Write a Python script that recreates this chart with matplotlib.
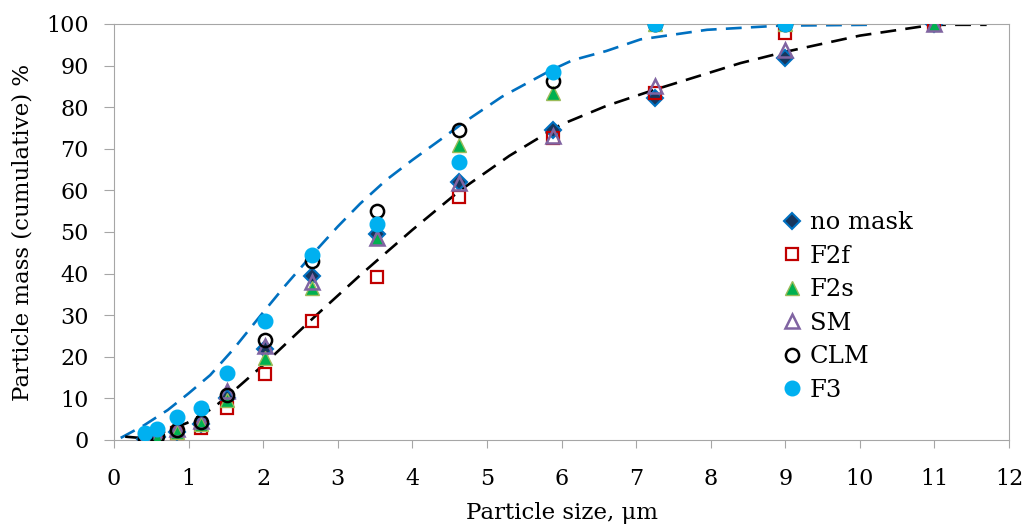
import numpy as np
import matplotlib
matplotlib.use('Agg')
import matplotlib.pyplot as plt

plt.rcParams['font.family'] = ['DejaVu Serif']

# particle size classes (um)
size = [0.41, 0.57, 0.84, 1.16, 1.52, 2.02, 2.66, 3.52, 4.63, 5.88, 7.26, 9.0, 11.0]

no_mask = [0.2, 0.8, 2.0, 3.8, 10.0, 21.8, 39.3, 49.5, 62.0, 74.5, 82.3, 91.8, 100]
f2f     = [0.0, 0.5, 1.6, 2.8, 7.6, 15.9, 28.6, 39.1, 58.5, 72.5, 83.4, 97.9, 100]
f2s     = [0.1, 0.7, 2.0, 3.8, 9.5, 19.8, 36.5, 48.5, 71.0, 83.3, 100, 100, 100]
sm      = [0.4, 1.0, 2.6, 4.6, 11.8, 22.5, 38.0, 48.6, 61.7, 73.0, 85.2, 93.8, 100]
clm     = [0.4, 0.9, 2.4, 4.4, 10.8, 24.0, 43.0, 55.0, 74.5, 86.3, 100, 100]
f3      = [1.6, 2.7, 5.6, 7.6, 16.2, 28.7, 44.5, 52.0, 66.9, 88.5, 100, 100]

# fitted curves
fit_blue_x = [0.09, 0.4, 0.72, 1.0, 1.29, 1.6, 1.96, 2.3, 2.63, 3.0, 3.3, 3.65, 4.0,
              4.37, 4.68, 5.2, 5.85, 6.15, 6.6, 7.06, 7.95, 8.93, 10.14]
fit_blue_y = [0.5, 3.5, 7.2, 11.2, 15.6, 21.8, 29.8, 37.2, 44.0, 51.3, 56.8, 62.5, 67.3,
              72.1, 76.2, 82.5, 88.8, 91.3, 93.5, 96.3, 98.6, 99.6, 99.8]
fit_black_x = [0.15, 0.35, 0.6, 0.98, 1.33, 1.65, 2.0, 2.67, 3.3, 3.53, 4.0, 4.64, 5.3,
               5.98, 6.6, 7.23, 8.4, 9.0, 10.0, 10.98, 11.7]
fit_black_y = [0.8, 0.5, 1.5, 4.1, 7.7, 12.5, 18.0, 29.3, 39.6, 43.2, 50.5, 60.0, 68.3,
               75.7, 80.3, 84.1, 90.6, 93.3, 97.2, 99.8, 99.8]

fig = plt.figure(figsize=(10.27, 5.27), dpi=100)
ax = fig.add_axes([0.111, 0.1651, 0.8715, 0.7894])

ax.plot(fit_blue_x, fit_blue_y, color='#0070C0', lw=1.9, dashes=(6, 3.5), zorder=2)
ax.plot(fit_black_x, fit_black_y, color='black', lw=1.9, dashes=(6, 3.5), zorder=2)

ax.plot(size, no_mask, ls='none', marker='D', ms=8.5, mfc='#17365D', mec='#0070C0', mew=1.5,
        label='no mask', zorder=3)
ax.plot(size, f2f, ls='none', marker='s', ms=9, mfc='none', mec='#C00000', mew=1.6,
        label='F2f', zorder=3)
ax.plot(size, f2s, ls='none', marker='^', ms=10.5, mfc='#00B050', mec='#9BBB59', mew=1.0,
        label='F2s', zorder=3)
ax.plot(size, sm, ls='none', marker='^', ms=9.5, mfc='none', mec='#8064A2', mew=1.8,
        label='SM', zorder=3)
ax.plot(size[:12], clm, ls='none', marker='o', ms=9.5, mfc='none', mec='black', mew=1.8,
        label='CLM', zorder=3)
ax.plot(size[:12], f3, ls='none', marker='o', ms=10.5, mfc='#00B0F0', mec='#00B0F0',
        label='F3', zorder=3)

ax.set_xlim(0, 12)
ax.set_ylim(0, 100)
ax.set_xticks(range(0, 13))
ax.set_yticks(range(0, 101, 10))
for s in ax.spines.values():
    s.set_color('#A6A6A6')
ax.tick_params(axis='both', direction='out', color='#A6A6A6', labelsize=16)
ax.tick_params(axis='x', length=6, pad=14)
ax.tick_params(axis='y', length=7, pad=11)
ax.set_xlabel('Particle size, μm', fontsize=16.5, labelpad=9)
ax.set_ylabel('Particle mass (cumulative) %', fontsize=16.5, labelpad=9)

ax.legend(loc='upper left', bbox_to_anchor=(0.745, 0.622), bbox_transform=fig.transFigure,
          frameon=False, fontsize=17.5, handletextpad=0.15, labelspacing=0.43,
          handlelength=1.2, borderpad=0)

fig.savefig('out.png', dpi=100)
